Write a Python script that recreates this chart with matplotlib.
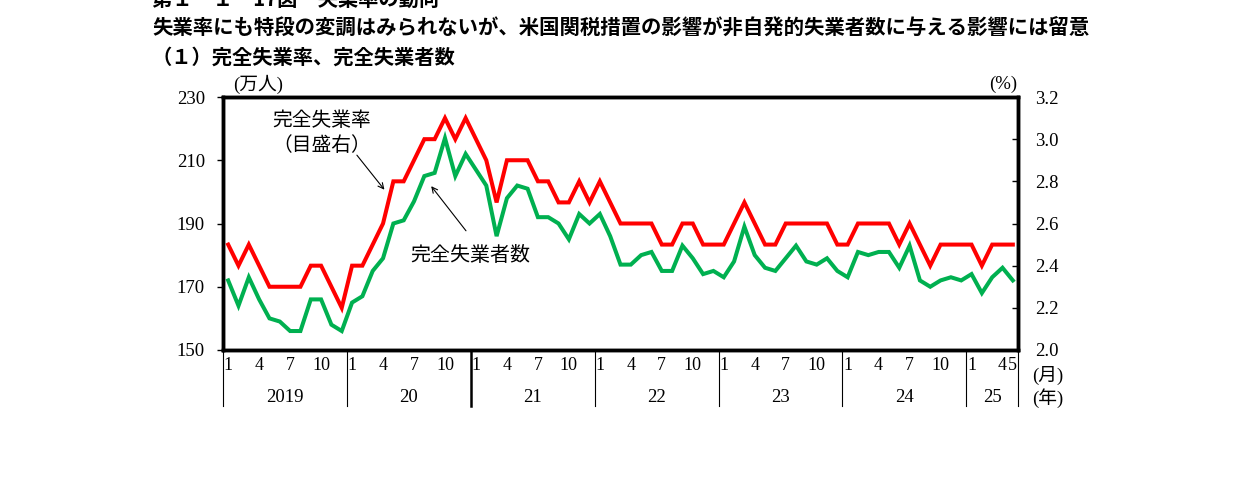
import matplotlib
matplotlib.use('Agg')
import matplotlib.pyplot as plt
import matplotlib.transforms as mtransforms

# 年・月の区切り
years = ['2019', '20', '21', '22', '23', '24', '25']
months_in_year = [12, 12, 12, 12, 12, 12, 5]
month_ticks = [1, 4, 7, 10]
month_ticks_last = [1, 4, 5]

# 完全失業者数（万人、左目盛）
unemployed = [
    172, 164, 173, 166, 160, 159, 156, 156, 166, 166, 158, 156,   # 2019
    165, 167, 175, 179, 190, 191, 197, 205, 206, 217, 205, 212,   # 2020
    207, 202, 186, 198, 202, 201, 192, 192, 190, 185, 193, 190,   # 2021
    193, 186, 177, 177, 180, 181, 175, 175, 183, 179, 174, 175,   # 2022
    173, 178, 189, 180, 176, 175, 179, 183, 178, 177, 179, 175,   # 2023
    173, 181, 180, 181, 181, 176, 183, 172, 170, 172, 173, 172,   # 2024
    174, 168, 173, 176, 172,                                      # 2025
]

# 完全失業率（％、右目盛）
rate = [
    2.5, 2.4, 2.5, 2.4, 2.3, 2.3, 2.3, 2.3, 2.4, 2.4, 2.3, 2.2,
    2.4, 2.4, 2.5, 2.6, 2.8, 2.8, 2.9, 3.0, 3.0, 3.1, 3.0, 3.1,
    3.0, 2.9, 2.7, 2.9, 2.9, 2.9, 2.8, 2.8, 2.7, 2.7, 2.8, 2.7,
    2.8, 2.7, 2.6, 2.6, 2.6, 2.6, 2.5, 2.5, 2.6, 2.6, 2.5, 2.5,
    2.5, 2.6, 2.7, 2.6, 2.5, 2.5, 2.6, 2.6, 2.6, 2.6, 2.6, 2.5,
    2.5, 2.6, 2.6, 2.6, 2.6, 2.5, 2.6, 2.5, 2.4, 2.5, 2.5, 2.5,
    2.5, 2.4, 2.5, 2.5, 2.5,
]

left_ticks = [150, 170, 190, 210, 230]
right_ticks = [2.0, 2.2, 2.4, 2.6, 2.8, 3.0, 3.2]

title_top = '第１－１－17図　失業率の動向'
title_main = '失業率にも特段の変調はみられないが、米国関税措置の影響が非自発的失業者数に与える影響には留意'
title_sub = '（１）完全失業率、完全失業者数'

RED = '#ff0000'
GREEN = '#00b050'
SERIF = ['Liberation Serif', 'Noto Sans CJK JP']

plt.rcParams['font.family'] = ['Noto Sans CJK JP', 'DejaVu Sans']

W, H = 1241, 483
fig = plt.figure(figsize=(W / 100, H / 100), dpi=100)
ax = fig.add_axes([223 / W, 133 / H, 795 / W, 253 / H])
ax2 = ax.twinx()

n = len(unemployed)
x = list(range(n))

ax.plot(x, unemployed, color=GREEN, lw=2.9, solid_joinstyle='miter', zorder=3)
ax2.plot(x, rate, color=RED, lw=2.9, solid_joinstyle='miter', zorder=3)

ax.set_xlim(-0.5, n - 0.5)
ax.set_ylim(150, 230)
ax2.set_ylim(2.0, 3.2)
ax.set_xticks([])

ax.set_yticks(left_ticks)
ax.tick_params(axis='y', direction='out', length=4, width=1, pad=9,
               labelsize=13.5, labelfontfamily='Liberation Serif')
ax2.set_yticks(right_ticks)
ax2.set_yticklabels([f'{v:.1f}' for v in right_ticks])
ax2.tick_params(axis='y', direction='in', length=4, width=1, pad=12,
                labelsize=13.5, labelfontfamily='Liberation Serif')

for a in (ax, ax2):
    for sp in a.spines.values():
        sp.set_linewidth(2.5)
        sp.set_color('black')

# 下側の年・月ラベルと区切り線
trans = mtransforms.blended_transform_factory(ax.transData, ax.transAxes)
month_y = -16 / 253
year_y = -47 / 253
line_bottom = -56 / 253

start = 0
bounds = [-0.5]
for yr, cnt in zip(years, months_in_year):
    ticks = month_ticks if cnt == 12 else month_ticks_last
    for m in ticks:
        ax.text(start + m - 1, month_y, str(m), transform=trans, ha='center', va='center',
                fontsize=13, family=SERIF)
    ax.text(start + (cnt - 1) / 2, year_y, yr, transform=trans, ha='center', va='center',
            fontsize=13.5, family=SERIF)
    start += cnt
    bounds.append(start - 0.5)

for b in bounds:
    lw = 1.8 if b == 23.5 else 0.8
    ax.plot([b, b], [0, line_bottom], transform=trans, color='black', lw=lw, clip_on=False)

fig.text(1048 / W, 1 - 375 / H, '(月)', ha='center', va='center', fontsize=13.5, family=SERIF)
fig.text(1048 / W, 1 - 398 / H, '(年)', ha='center', va='center', fontsize=13.5, family=SERIF)

# 単位
fig.text(258 / W, 1 - 84 / H, '(万人)', ha='center', va='center', fontsize=13.5, family=SERIF)
fig.text(1003 / W, 1 - 84 / H, '(%)', ha='center', va='center', fontsize=13.5, family=SERIF)

# 系列の注記
ax.text(9.1, 218.6, '完全失業率\n（目盛右）', ha='center', va='center', fontsize=14.2,
        linespacing=1.25)
ax.annotate('', xy=(15.3, 200.0), xytext=(12.3, 212.3),
            arrowprops=dict(arrowstyle='->', color='black', lw=0.8))
ax.text(23.5, 180.0, '完全失業者数', ha='center', va='center', fontsize=14.4)
ax.annotate('', xy=(19.5, 202.5), xytext=(23.2, 187.0),
            arrowprops=dict(arrowstyle='->', color='black', lw=0.8))

# タイトル（1行目は上端で切れている）
fig.text(152 / W, 1 + 1 / H, title_top, ha='left', va='center', fontsize=14.6, weight='bold')
fig.text(152 / W, 1 - 27 / H, title_main, ha='left', va='center', fontsize=14.7, weight='bold')
fig.text(152 / W, 1 - 57 / H, title_sub, ha='left', va='center', fontsize=14.6, weight='bold')

fig.savefig('out.png', dpi=100)
